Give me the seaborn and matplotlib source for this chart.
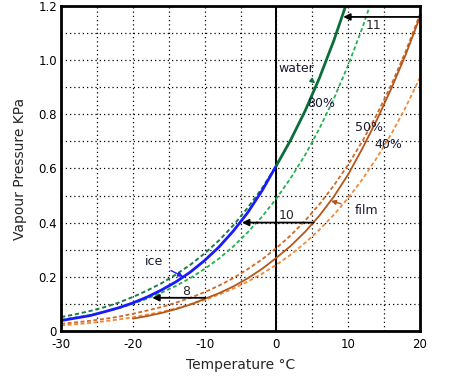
import numpy as np
import pandas as pd
import matplotlib
matplotlib.use('Agg')
import matplotlib.pyplot as plt
import seaborn as sns

# --- data (kPa) ---
temp_neg = [-30, -28, -26, -24, -22, -20, -18, -16, -14, -12, -10, -8, -6, -4, -2, 0]
temp_all = [-30, -28, -26, -24, -22, -20, -18, -16, -14, -12, -10, -8, -6, -4, -2,
            0, 2, 4, 6, 8, 10, 12, 14, 16, 18, 20]
temp_water = [0, 2, 4, 6, 8, 10]
temp_film = [-20, -18, -16, -14, -12, -10, -8, -6, -4, -2, 0, 2, 4, 6, 8, 10, 12, 14, 16, 18, 20]

water = [0.611, 0.706, 0.813, 0.935, 1.073, 1.228]
water_supercooled = [0.051, 0.061, 0.073, 0.087, 0.104, 0.125, 0.149, 0.176, 0.208, 0.244,
                     0.286, 0.334, 0.390, 0.455, 0.527, 0.611]
ice = [0.038, 0.047, 0.056, 0.070, 0.085, 0.103, 0.125, 0.151, 0.181, 0.217,
       0.260, 0.310, 0.369, 0.437, 0.518, 0.611]
rh80 = [0.041, 0.049, 0.058, 0.070, 0.083, 0.100, 0.119, 0.141, 0.166, 0.195, 0.229, 0.267,
        0.312, 0.364, 0.422, 0.489, 0.565, 0.650, 0.748, 0.858, 0.982, 1.122, 1.279, 1.45, 1.65, 1.87]
rh50 = [0.026, 0.031, 0.037, 0.044, 0.052, 0.063, 0.075, 0.088, 0.104, 0.122, 0.143, 0.167,
        0.195, 0.228, 0.264, 0.306, 0.353, 0.407, 0.468, 0.537, 0.614, 0.702, 0.800, 0.909, 1.032, 1.170]
rh40 = [0.020, 0.024, 0.029, 0.035, 0.042, 0.050, 0.060, 0.070, 0.083, 0.098, 0.114, 0.134,
        0.156, 0.182, 0.211, 0.244, 0.282, 0.325, 0.374, 0.429, 0.491, 0.561, 0.640, 0.727, 0.826, 0.936]
film = [0.045, 0.0545, 0.066, 0.080, 0.097, 0.118, 0.139, 0.164, 0.194, 0.229, 0.27,
        0.314, 0.366, 0.426, 0.496, 0.578, 0.675, 0.78, 0.895, 1.02, 1.16]

xtick_vals = [-30, -20, -10, 0, 10, 20]
xtick_labels = ['-30', '-20', '-10', '0', '10', '20']
ytick_vals = [0, 0.2, 0.4, 0.6, 0.8, 1.0, 1.2]
ytick_labels = ['0', '0.2', '0.4', '0.6', '0.8', '1.0', '1.2']

# shift arrows: (label, y level, from temp, to temp)
shifts = [('11', 1.16, 20, 9.3), ('10', 0.40, 5.2, -4.8), ('8', 0.122, -9.9, -17.3)]

sns.set_style('white')
plt.rcParams['font.family'] = ['DejaVu Sans']

fig = plt.figure(figsize=(4.56, 3.82), dpi=100)
ax = fig.add_axes([0.134, 0.134, 0.787, 0.850])

dash = (0, (2.2, 1.4))
sns.lineplot(x=temp_all, y=rh40, ax=ax, color='#f08a3c', lw=1.3, linestyle=dash)
sns.lineplot(x=temp_all, y=rh50, ax=ax, color='#cf6a28', lw=1.3, linestyle=dash)
sns.lineplot(x=temp_film, y=film, ax=ax, color='#b5561a', lw=1.3)
sns.lineplot(x=temp_all, y=rh80, ax=ax, color='#22b14c', lw=1.3, linestyle=dash)
sns.lineplot(x=temp_neg, y=water_supercooled, ax=ax, color='#1f7a48', lw=1.4, linestyle=dash)
sns.lineplot(x=temp_neg, y=ice, ax=ax, color='#1a1aff', lw=2.0)
sns.lineplot(x=temp_water, y=water, ax=ax, color='#0b6e3a', lw=2.0)

ax.set_xlim(-30, 20)
ax.set_ylim(0, 1.2)
ax.set_xticks(xtick_vals)
ax.set_xticklabels(xtick_labels)
ax.set_xticks([-25, -15, -5, 5, 15], minor=True)
ax.set_yticks(ytick_vals)
ax.set_yticklabels(ytick_labels)
ax.set_yticks([0.1, 0.3, 0.5, 0.7, 0.9, 1.1], minor=True)
ax.grid(True, which='both', color='black', linestyle=(0, (1.0, 2.4)), lw=0.9)
ax.set_axisbelow(True)
ax.axvline(0, color='black', lw=1.4, zorder=1.5)
ax.tick_params(which='both', length=0, labelsize=8.5, colors='black')
ax.tick_params(axis='x', pad=5)
ax.tick_params(axis='y', pad=3)
for s in ax.spines.values():
    s.set_linewidth(2)
    s.set_color('black')

ax.set_xlabel('Temperature °C', fontsize=10, labelpad=5)
ax.set_ylabel('Vapour Pressure KPa', fontsize=10, labelpad=8)

for lab, yv, x0, x1 in shifts:
    ax.annotate('', xy=(x1, yv), xytext=(x0, yv),
                arrowprops=dict(arrowstyle='-|>', color='black', lw=1.3,
                                mutation_scale=10, shrinkA=0, shrinkB=0))
ax.text(13.5, 1.13, '11', fontsize=9, ha='center', va='center')
ax.text(1.4, 0.425, '10', fontsize=9, ha='center', va='center')
ax.text(-12.6, 0.145, '8', fontsize=9, ha='center', va='center')

txt = '#1a1a33'
ax.annotate('water', xy=(5.4, 0.915), xytext=(2.8, 0.97), fontsize=9, color=txt,
            ha='center', va='center',
            arrowprops=dict(arrowstyle='-|>', color='#0b6e3a', lw=1, mutation_scale=7,
                            shrinkA=4, shrinkB=0))
ax.annotate('ice', xy=(-13.0, 0.2), xytext=(-17.1, 0.255), fontsize=9, color=txt,
            ha='center', va='center',
            arrowprops=dict(arrowstyle='-|>', color='#1a1aff', lw=1, mutation_scale=7,
                            shrinkA=4, shrinkB=0))
ax.annotate('film', xy=(7.6, 0.48), xytext=(12.6, 0.443), fontsize=9, color=txt,
            ha='center', va='center',
            arrowprops=dict(arrowstyle='-|>', color='#b5561a', lw=1, mutation_scale=7,
                            shrinkA=8, shrinkB=0))
ax.text(6.2, 0.84, '80%', fontsize=9, color=txt, ha='center', va='center')
ax.text(12.9, 0.75, '50%', fontsize=9, color=txt, ha='center', va='center')
ax.text(15.6, 0.69, '40%', fontsize=9, color=txt, ha='center', va='center')

fig.savefig('out.png', dpi=100)
